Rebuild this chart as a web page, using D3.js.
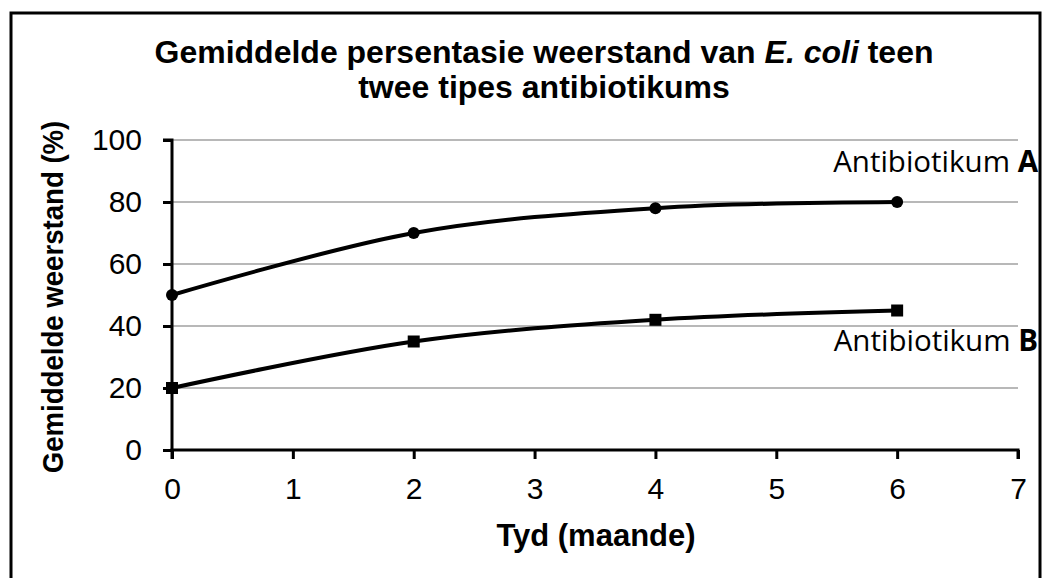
<!DOCTYPE html>
<html><head><meta charset="utf-8">
<script src="https://cdn.jsdelivr.net/npm/d3@7"></script>
<style>body{margin:0;background:#fff}svg{display:block;font-family:"Liberation Sans",Arial,sans-serif}</style>
</head><body>
<svg id="c" width="1051" height="578"></svg>
<script>
const months = [0, 2, 4, 6];
const seriesA = [50, 70, 78, 80];
const seriesB = [20, 35, 42, 45];
const xTicks = [0, 1, 2, 3, 4, 5, 6, 7];
const yTicks = [0, 20, 40, 60, 80, 100];

const svg = d3.select("#c");
svg.append("rect").attr("x", 0).attr("y", 0).attr("width", 1051).attr("height", 578).attr("fill", "#fff");
svg.append("rect").attr("x", 11).attr("y", 13).attr("width", 1029).attr("height", 580)
  .attr("fill", "none").attr("stroke", "#000").attr("stroke-width", 3);

const x = d3.scaleLinear().domain([0, 7]).range([172, 1018]);
const y = d3.scaleLinear().domain([0, 100]).range([450, 140]);

// gridlines
svg.append("g").selectAll("line").data(yTicks.filter(d => d > 0)).join("line")
  .attr("x1", x(0)).attr("x2", x(7)).attr("y1", d => y(d)).attr("y2", d => y(d))
  .attr("stroke", "#a0a0a0").attr("stroke-width", 1.6);

// axes
const yAxis = svg.append("g").attr("transform", `translate(${x(0)},0)`)
  .call(d3.axisLeft(y).tickValues(yTicks).tickSize(9).tickPadding(21).tickFormat(d3.format("d")));
const xAxis = svg.append("g").attr("transform", `translate(0,${y(0)})`)
  .call(d3.axisBottom(x).tickValues(xTicks).tickSize(9).tickPadding(19).tickFormat(d3.format("d")));
[yAxis, xAxis].forEach(a => {
  a.select(".domain").attr("stroke", "#000").attr("stroke-width", 3);
  a.selectAll(".tick line").attr("stroke", "#000").attr("stroke-width", 3);
  a.selectAll("text").attr("font-size", 30).attr("fill", "#000").attr("font-family", "'Liberation Sans',Arial,sans-serif");
});
yAxis.select(".domain").attr("d", `M-9,${y(100)}H0V${y(0)}`);
xAxis.select(".domain").attr("d", `M${x(0)},9V0H${x(7)}V9`);

const line = d3.line().x((d, i) => x(months[i])).y(d => y(d)).curve(d3.curveCardinal.tension(0));
[seriesA, seriesB].forEach(s => {
  svg.append("path").attr("d", line(s)).attr("fill", "none").attr("stroke", "#000").attr("stroke-width", 4);
});
svg.append("g").selectAll("circle").data(seriesA).join("circle")
  .attr("cx", (d, i) => x(months[i])).attr("cy", d => y(d)).attr("r", 6).attr("fill", "#000");
svg.append("g").selectAll("rect").data(seriesB).join("rect")
  .attr("x", (d, i) => x(months[i]) - 6).attr("y", d => y(d) - 6).attr("width", 12).attr("height", 12).attr("fill", "#000");

// title
const t = svg.append("text").attr("text-anchor", "middle").attr("font-weight", "bold").attr("font-size", 32);
const t1 = t.append("tspan").attr("x", 544).attr("y", 63);
t1.append("tspan").text("Gemiddelde persentasie weerstand van ");
t1.append("tspan").attr("font-style", "italic").text("E. coli");
t1.append("tspan").text(" teen");
t.append("tspan").attr("x", 544).attr("y", 98).text("twee tipes antibiotikums");

// axis labels
svg.append("text").attr("transform", "translate(63,297) rotate(-90) scale(0.92,1)").attr("text-anchor", "middle")
  .attr("font-weight", "bold").attr("font-size", 30).text("Gemiddelde weerstand (%)");
svg.append("text").attr("x", 596).attr("y", 546).attr("text-anchor", "middle")
  .attr("font-weight", "bold").attr("font-size", 31).text("Tyd (maande)");

// annotations
const la = svg.append("text").attr("x", 1038).attr("y", 172).attr("text-anchor", "end")
  .attr("font-size", 29.5).attr("font-family", "'Open Sans',sans-serif");
la.append("tspan").text("Antibiotikum ");
la.append("tspan").attr("font-weight", "bold").text("A");
const lb = svg.append("text").attr("x", 1038).attr("y", 351).attr("text-anchor", "end")
  .attr("font-size", 29.5).attr("font-family", "'Open Sans',sans-serif");
lb.append("tspan").text("Antibiotikum ");
lb.append("tspan").attr("font-weight", "bold").text("B");
</script>
</body></html>
